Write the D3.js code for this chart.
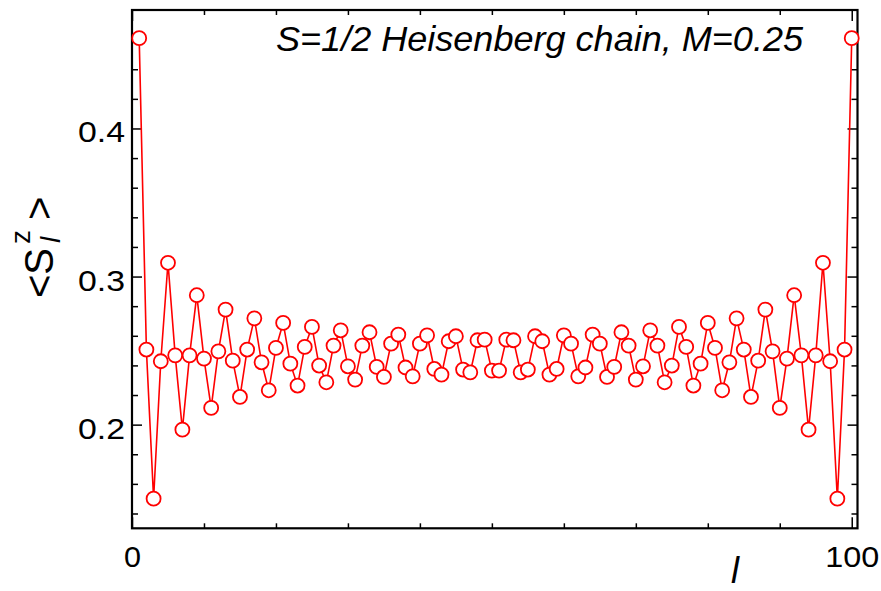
<!DOCTYPE html>
<html>
<head>
<meta charset="utf-8">
<script src="https://cdn.jsdelivr.net/npm/d3@7"></script>
<style>
  html, body { margin: 0; padding: 0; background: #fff; }
  svg { display: block; }
  text { font-family: "Liberation Sans", Arial, Helvetica, sans-serif; fill: #000; }
</style>
</head>
<body>
<div id="chart"></div>
<script>
// ---- data ----
const sZ = [
  0.461, 0.2507, 0.150, 0.2428, 0.3093, 0.2468, 0.1966, 0.2468, 0.2874, 0.2446,
  0.2113, 0.2495, 0.2777, 0.2432, 0.2187, 0.2507, 0.2718, 0.2421, 0.2232, 0.2518,
  0.2687, 0.2412, 0.2264, 0.2525, 0.2660, 0.2399, 0.2286, 0.2534, 0.2637, 0.2394,
  0.2304, 0.2534, 0.2624, 0.2390, 0.2322, 0.2547, 0.2608, 0.2386, 0.2326, 0.2547,
  0.2603, 0.2376, 0.2338, 0.2563, 0.2597, 0.2372, 0.2353, 0.2570, 0.2574, 0.2365,
  0.2365, 0.2574, 0.2570, 0.2353, 0.2372, 0.2597, 0.2563, 0.2338, 0.2376, 0.2603,
  0.2547, 0.2326, 0.2386, 0.2608, 0.2547, 0.2322, 0.2390, 0.2624, 0.2534, 0.2304,
  0.2394, 0.2637, 0.2534, 0.2286, 0.2399, 0.2660, 0.2525, 0.2264, 0.2412, 0.2687,
  0.2518, 0.2232, 0.2421, 0.2718, 0.2507, 0.2187, 0.2432, 0.2777, 0.2495, 0.2113,
  0.2446, 0.2874, 0.2468, 0.1966, 0.2468, 0.3093, 0.2428, 0.150, 0.2507, 0.461
];
const xMajorTicks = [0, 100];
const xMinorTicks = [10, 20, 30, 40, 50, 60, 70, 80, 90];
const yMajorTicks = [0.2, 0.3, 0.4];
const yMinorTicks = [0.14, 0.16, 0.18, 0.22, 0.24, 0.26, 0.28, 0.32, 0.34, 0.36, 0.38, 0.42, 0.44, 0.46];
const titleText = "S=1/2 Heisenberg chain, M=0.25";

// ---- layout ----
const W = 881, H = 591;
const margin = { left: 132, right: 23.5, top: 10, bottom: 62.7 };
const x = d3.scaleLinear().domain([0, 100.8]).range([margin.left, W - margin.right]);
const y = d3.scaleLinear().domain([0.13, 0.48]).range([H - margin.bottom, margin.top]);
const x0 = x.range()[0], x1 = x.range()[1], y0 = y.range()[0], y1 = y.range()[1];

const svg = d3.select("#chart").append("svg").attr("width", W).attr("height", H);

function styleTicks(g) {
  g.select(".domain").remove();
  g.selectAll(".tick line").attr("stroke", "#000").attr("stroke-width", 1.5);
}

// inward ticks on all four sides
svg.append("g").attr("transform", `translate(0,${y0})`)
  .call(d3.axisBottom(x).tickValues(xMinorTicks).tickSize(-5).tickFormat("")).call(styleTicks);
svg.append("g").attr("transform", `translate(0,${y1})`)
  .call(d3.axisTop(x).tickValues(xMinorTicks).tickSize(-5).tickFormat("")).call(styleTicks);
svg.append("g").attr("transform", `translate(0,${y1})`)
  .call(d3.axisTop(x).tickValues(xMajorTicks).tickSize(-11).tickFormat("")).call(styleTicks);
svg.append("g").attr("transform", `translate(${x0},0)`)
  .call(d3.axisLeft(y).tickValues(yMinorTicks).tickSize(-6).tickFormat("")).call(styleTicks);
svg.append("g").attr("transform", `translate(${x1},0)`)
  .call(d3.axisRight(y).tickValues(yMinorTicks).tickSize(-6).tickFormat("")).call(styleTicks);
svg.append("g").attr("transform", `translate(${x1},0)`)
  .call(d3.axisRight(y).tickValues(yMajorTicks).tickSize(-10).tickFormat("")).call(styleTicks);

// labelled axes
const gx = svg.append("g").attr("transform", `translate(0,${y0})`)
  .call(d3.axisBottom(x).tickValues(xMajorTicks).tickSize(-11).tickPadding(17).tickFormat(d3.format("d")));
gx.call(styleTicks);
gx.selectAll(".tick text").attr("font-size", 30)
  .attr("font-family", "Liberation Sans, Arial, sans-serif")
  .attr("textLength", d => d === 100 ? 54 : 17).attr("lengthAdjust", "spacingAndGlyphs");

const gy = svg.append("g").attr("transform", `translate(${x0},0)`)
  .call(d3.axisLeft(y).tickValues(yMajorTicks).tickSize(-10).tickPadding(7).tickFormat(d3.format(".1f")));
gy.call(styleTicks);
gy.selectAll(".tick text").attr("font-size", 30).attr("dy", "0.45em")
  .attr("font-family", "Liberation Sans, Arial, sans-serif")
  .attr("textLength", 47).attr("lengthAdjust", "spacingAndGlyphs");

// frame
svg.append("rect").attr("x", x0).attr("y", y1).attr("width", x1 - x0).attr("height", y0 - y1)
  .attr("fill", "none").attr("stroke", "#000").attr("stroke-width", 2.2);

// data line + markers
const pts = sZ.map((v, i) => ({ l: i + 1, v }));
svg.append("path").datum(pts)
  .attr("fill", "none").attr("stroke", "#ff0000").attr("stroke-width", 1.6)
  .attr("d", d3.line().x(d => x(d.l)).y(d => y(d.v)));
svg.append("g").selectAll("circle").data(pts).join("circle")
  .attr("cx", d => x(d.l)).attr("cy", d => y(d.v)).attr("r", 7)
  .attr("fill", "#fff").attr("stroke", "#ff0000").attr("stroke-width", 1.8);

// title
svg.append("text").attr("x", 276).attr("y", 50.7)
  .attr("font-size", 35).attr("font-style", "italic")
  .attr("textLength", 527).attr("lengthAdjust", "spacingAndGlyphs")
  .text(titleText);

// x label
svg.append("text").attr("x", 735).attr("y", 583).attr("text-anchor", "middle")
  .attr("font-size", 36).attr("font-style", "italic").text("l");

// y label  <S_l^z >
const yl = svg.append("text").attr("transform", "translate(53,298) rotate(-90)").attr("font-size", 40);
yl.append("tspan").attr("x", 0).attr("y", 0).text("<S");
yl.append("tspan").attr("x", 55).attr("y", 7).attr("font-size", 28).attr("font-style", "italic").text("l");
yl.append("tspan").attr("x", 54).attr("y", -23).attr("font-size", 28).text("z");
yl.append("tspan").attr("x", 67).attr("y", 0).text(" >");
</script>
</body>
</html>
